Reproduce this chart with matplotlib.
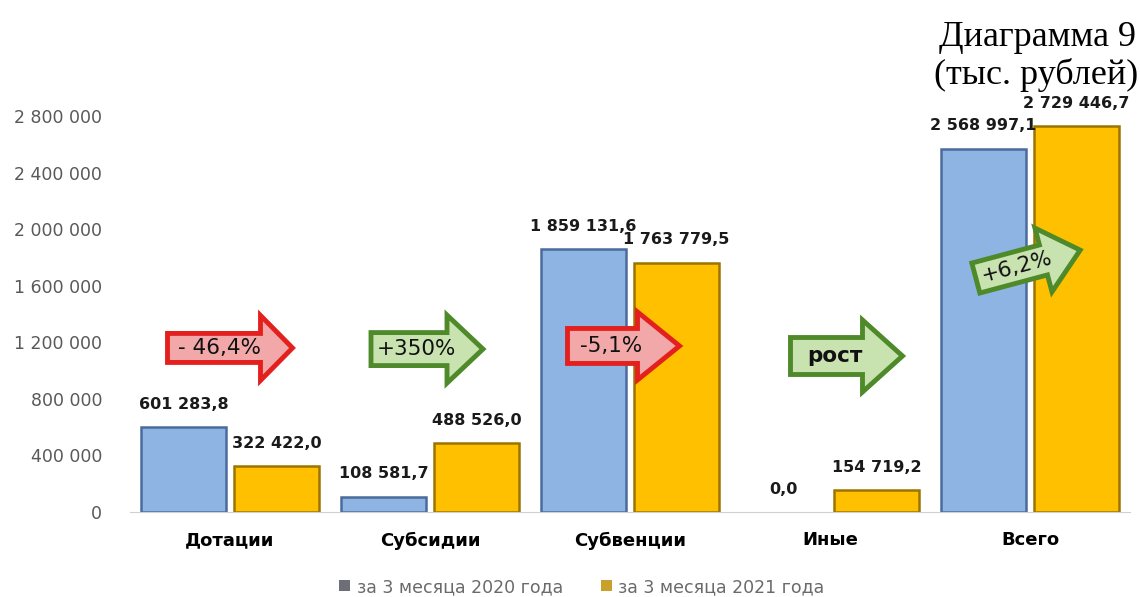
import numpy as np
import matplotlib
matplotlib.use('Agg')
import matplotlib.pyplot as plt
import matplotlib.transforms as mtransforms
from matplotlib.patches import Polygon, Patch

# data (тыс. рублей)
categories = ['Дотации', 'Субсидии', 'Субвенции', 'Иные', 'Всего']
values_2020 = [601283.8, 108581.7, 1859131.6, 0.0, 2568997.1]
values_2021 = [322422.0, 488526.0, 1763779.5, 154719.2, 2729446.7]
series_names = ['за 3 месяца 2020 года', 'за 3 месяца 2021 года']
y_ticks = [0, 400000, 800000, 1200000, 1600000, 2000000, 2400000, 2800000]
changes = ['- 46,4%', '+350%', '-5,1%', 'рост', '+6,2%']


def fmt(v):
    s = '{:,.1f}'.format(v).replace(',', ' ').replace('.', ',')
    return s


blue, blue_edge = '#8db4e3', '#4a6c9c'
gold, gold_edge = '#ffc000', '#9c7400'

fig = plt.figure(figsize=(11.4, 5.97), dpi=100)
ax = fig.add_axes([130 / 1140, 1 - 512 / 597, 1000 / 1140, 396 / 597])

x = np.arange(len(categories))
w = 0.425
b1 = ax.bar(x - 0.232, values_2020, w, color=blue, edgecolor=blue_edge, linewidth=1.8, zorder=2)
b2 = ax.bar(x + 0.232, values_2021, w, color=gold, edgecolor=gold_edge, linewidth=1.8, zorder=2)

for bars, vals in [(b1, values_2020), (b2, values_2021)]:
    for r, v in zip(bars, vals):
        if v == 0:
            r.set_linewidth(0)
        ax.annotate(fmt(v), (r.get_x() + r.get_width() / 2, r.get_height()),
                    xytext=(0, 11), textcoords='offset points', ha='center', va='bottom',
                    fontsize=11.5, fontweight='bold', color='#1a1a1a', zorder=6)

ax.set_xlim(-0.5, 4.5)
ax.set_ylim(0, 2800000)
ax.set_yticks(y_ticks)
ax.set_yticklabels(['{:,}'.format(t).replace(',', ' ') for t in y_ticks], fontsize=12.5, color='#595959')
ax.set_xticks(x)
ax.set_xticklabels(categories, fontsize=13, fontweight='bold', color='black')
ax.tick_params(axis='both', length=0)
ax.tick_params(axis='x', pad=14)
ax.tick_params(axis='y', pad=20)
for s in ['top', 'right', 'left']:
    ax.spines[s].set_visible(False)
ax.spines['bottom'].set_color('#d0d0d0')


# change arrows (shape in pixels, anchored at a data point)
def arrow(xc, yc, L, bh, hh, hl, ang, fc, ec, label, bold=False):
    tr = mtransforms.Affine2D().rotate_deg(ang) + mtransforms.ScaledTranslation(xc, yc, ax.transData)
    pts = [(-L / 2, -bh / 2), (L / 2 - hl, -bh / 2), (L / 2 - hl, -hh / 2), (L / 2, 0),
           (L / 2 - hl, hh / 2), (L / 2 - hl, bh / 2), (-L / 2, bh / 2)]
    ax.add_patch(Polygon(pts, closed=True, facecolor=fc, edgecolor=ec, linewidth=3.5,
                         joinstyle='miter', transform=tr, zorder=5, clip_on=False))
    ax.text(-hl / 4 - 2, 0, label, transform=tr, rotation=ang, rotation_mode='anchor',
            ha='center', va='center', fontsize=15.5, color='#111111',
            fontweight='bold' if bold else 'normal', zorder=7)


red_fc, red_ec = '#f2a7a9', '#e3201e'
grn_fc, grn_ec = '#c9e3b0', '#4f8a2a'
arrow(0.0, 1160000, 125, 29, 65, 32, 0, red_fc, red_ec, changes[0])
arrow(0.985, 1152000, 112, 33, 68, 36, 0, grn_fc, grn_ec, changes[1])
arrow(1.9675, 1174000, 112, 35, 68, 42, 0, red_fc, red_ec, changes[2])
arrow(3.0825, 1103000, 112, 37, 72, 40, 0, grn_fc, grn_ec, changes[3], bold=True)
arrow(3.99, 1753000, 108, 31, 66, 38, 15, grn_fc, grn_ec, changes[4])

handles = [Patch(facecolor='#6e6e78', edgecolor='none'), Patch(facecolor='#c9a12a', edgecolor='none')]
fig.legend(handles, series_names, loc='center', bbox_to_anchor=(582 / 1140, 1 - 587 / 597),
           ncol=2, frameon=False, fontsize=12.5, labelcolor='#6a6a6a',
           handlelength=0.6, handleheight=0.6, handletextpad=0.4, columnspacing=2.2)

fig.text(1136 / 1140, 1 - 38 / 597, 'Диаграмма 9', family='Liberation Serif', fontsize=26,
         ha='right', va='center')
fig.text(1138 / 1140, 1 - 75 / 597, '(тыс. рублей)', family='Liberation Serif', fontsize=26,
         ha='right', va='center')

fig.savefig('out.png', dpi=100)
